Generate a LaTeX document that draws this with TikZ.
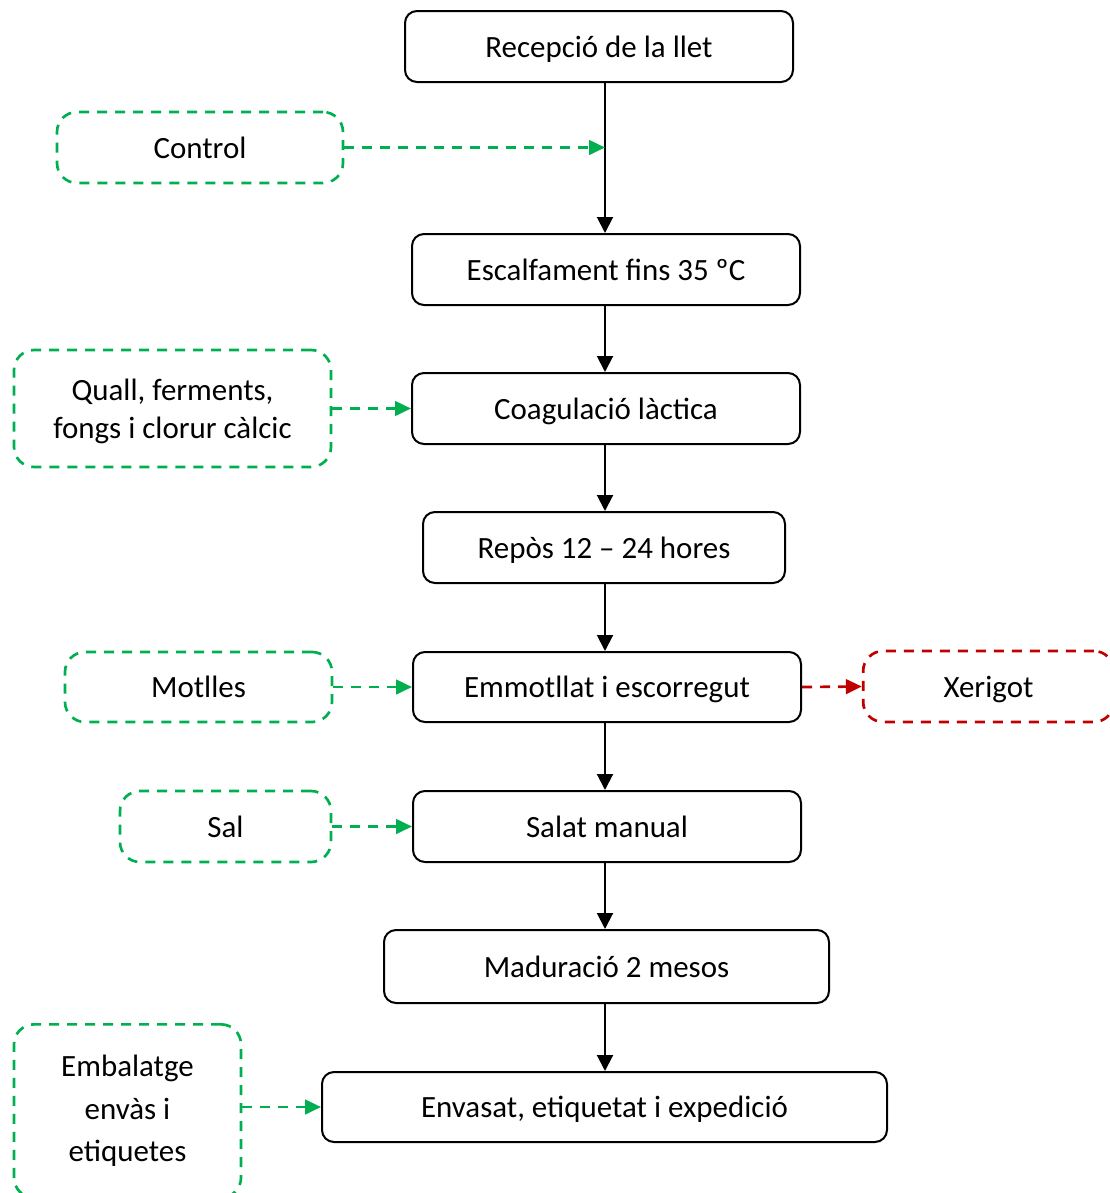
\documentclass[tikz,border=0pt]{standalone}
\usepackage{fontspec}
\setmainfont{Carlito}
\usetikzlibrary{arrows.meta}
\definecolor{okgreen}{HTML}{00B050}
\definecolor{wastered}{HTML}{C00000}
\begin{document}
\begin{tikzpicture}[x=0.75pt,y=-0.75pt,
  every node/.style={font=\fontsize{23.2}{28.5}\selectfont, align=center, inner sep=0pt},
  oneline/.style={text height=18pt, text depth=2pt},
  stepbox/.style={oneline, draw=black, line width=1.5pt, rounded corners=9pt},
  inputbox/.style={draw=okgreen, line width=2pt, dash pattern=on 7.5pt off 6pt, rounded corners=15pt},
  outputbox/.style={oneline, draw=wastered, line width=2pt, dash pattern=on 7.5pt off 6pt, rounded corners=15pt},
  flow/.style={line width=1.5pt, -{Triangle[length=12pt,width=12pt]}},
  feed/.style={okgreen, line width=2pt, dash pattern=on 7.5pt off 6pt, -{Triangle[length=12pt,width=11pt]}},
  waste/.style={wastered, line width=2pt, dash pattern=on 7.5pt off 6pt, -{Triangle[length=12pt,width=11pt]}}]
\useasboundingbox (0,0) rectangle (1110,1193);

% main process steps
\node[stepbox, minimum width=291pt, minimum height=53.25pt] (s1) at (599,46.5) {Recepció de la llet};
\node[stepbox, minimum width=291pt, minimum height=53.25pt] (s2) at (606,269.5) {Escalfament fins 35 ºC};
\node[stepbox, minimum width=291pt, minimum height=53.25pt] (s3) at (606,408.5) {Coagulació làctica};
\node[stepbox, minimum width=271.5pt, minimum height=53.25pt] (s4) at (604,547.5) {Repòs 12 – 24 hores};
\node[stepbox, minimum width=291pt, minimum height=52.5pt] (s5) at (607,687) {Emmotllat i escorregut};
\node[stepbox, minimum width=291pt, minimum height=53.25pt] (s6) at (607,826.5) {Salat manual};
\node[stepbox, minimum width=333.75pt, minimum height=54.75pt] (s7) at (606.5,966.5) {Maduració 2 mesos};
\node[stepbox, minimum width=423.75pt, minimum height=52.5pt] (s8) at (604.5,1107) {Envasat, etiquetat i expedició};

% inputs and by-products
\node[inputbox, oneline, minimum width=214.5pt, minimum height=53.25pt] (i1) at (200,147.5) {Control};
\node[inputbox, minimum width=237.75pt, minimum height=87.75pt, text depth=0pt] (i2) at (172.5,408.5) {Quall, ferments,\\fongs i clorur càlcic};
\node[inputbox, oneline, minimum width=200.25pt, minimum height=52.5pt] (i3) at (198.5,687) {Motlles};
\node[inputbox, oneline, minimum width=158.25pt, minimum height=53.25pt] (i4) at (225.5,826.5) {Sal};
\node[inputbox, minimum width=170.25pt, minimum height=130pt, font=\fontsize{23.2}{32}\selectfont] (i5) at (127.5,1111) {Embalatge\\envàs i\\etiquetes};
\node[outputbox, minimum width=188pt, minimum height=53.25pt] (o1) at (988.5,686.5) {Xerigot};

% main flow line
\coordinate (spine) at (605,0);
\draw[flow] (s1.south -| spine) -- (s2.north -| spine);
\draw[flow] (s2.south -| spine) -- (s3.north -| spine);
\draw[flow] (s3.south -| spine) -- (s4.north -| spine);
\draw[flow] (s4.south -| spine) -- (s5.north -| spine);
\draw[flow] (s5.south -| spine) -- (s6.north -| spine);
\draw[flow] (s6.south -| spine) -- (s7.north -| spine);
\draw[flow] (s7.south -| spine) -- (s8.north -| spine);

% side inputs and output
\draw[feed] (i1.east) -- (i1.east -| spine);
\draw[feed] (i2.east) -- (i2.east -| s3.west);
\draw[feed] (i3.east) -- (i3.east -| s5.west);
\draw[feed] (i4.east) -- (i4.east -| s6.west);
\draw[feed] (i5.east |- s8.west) -- (s8.west);
\draw[waste] (s5.east) -- (o1.west);
\end{tikzpicture}
\end{document}
